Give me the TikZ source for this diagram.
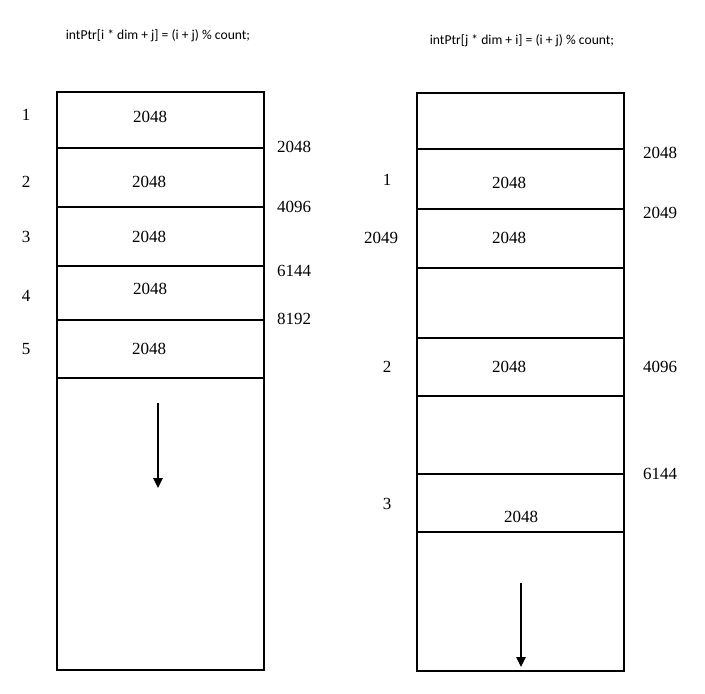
\documentclass[tikz,border=0pt]{standalone}
\usepackage{fontspec}
\setmainfont{Liberation Serif}
\newfontfamily\codefont{Carlito}
\usetikzlibrary{arrows.meta}
\begin{document}
\begin{tikzpicture}[x=1pt,y=-1pt,
  box/.style={line width=2.7pt},
  sep/.style={line width=2.7pt},
  num/.style={font=\fontsize{17}{18}\selectfont, inner sep=0pt},
  code/.style={font=\codefont\fontsize{13.6}{14}\selectfont, inner sep=0pt},
  flow/.style={line width=2.4pt,-{Triangle[length=10pt,width=9pt]}}]
\useasboundingbox (0,0) rectangle (705,694);
% titles
\node[code] (t1) at (158,36) {intPtr[i * dim + j] = (i + j) \% count;};
\node[code] (t2) at (522,41) {intPtr[j * dim + i] = (i + j) \% count;};
% left box
\draw[box] (57,92) rectangle (264,670);
\foreach \y in {148,207,266,320,378} \draw[sep] (57,\y) -- (264,\y);
\node[num] (l1) at (26,115) {1};
\node[num] (l2) at (26,182) {2};
\node[num] (l3) at (26,237) {3};
\node[num] (l4) at (26,296) {4};
\node[num] (l5) at (26,349) {5};
\node[num] (c1) at (150,117) {2048};
\node[num] (c2) at (149,182) {2048};
\node[num] (c3) at (149,237) {2048};
\node[num] (c4) at (150,289) {2048};
\node[num] (c5) at (149,349) {2048};
\node[num] (r1) at (294,147) {2048};
\node[num] (r2) at (294,207) {4096};
\node[num] (r3) at (294,271) {6144};
\node[num] (r4) at (294,319) {8192};
\coordinate (a1s) at (158,403);
\coordinate (a1e) at (158,488);
\draw[flow] (a1s) -- (a1e);
% right box
\draw[box] (417,93) rectangle (624,671);
\foreach \y in {149,209,268,338,396,474,532} \draw[sep] (417,\y) -- (624,\y);
\node[num] (q1) at (660,153) {2048};
\node[num] (q2) at (660,213) {2049};
\node[num] (q3) at (660,367) {4096};
\node[num] (q4) at (660,474) {6144};
\node[num] (p1) at (387,180) {1};
\node[num] (p2) at (381,238) {2049};
\node[num] (p3) at (387,367) {2};
\node[num] (p4) at (387,504) {3};
\node[num] (d1) at (509,183) {2048};
\node[num] (d2) at (509,238) {2048};
\node[num] (d3) at (509,367) {2048};
\node[num] (d4) at (521,517) {2048};
\coordinate (a2s) at (521,583);
\coordinate (a2e) at (521,667);
\draw[flow] (a2s) -- (a2e);
\end{tikzpicture}
\end{document}
